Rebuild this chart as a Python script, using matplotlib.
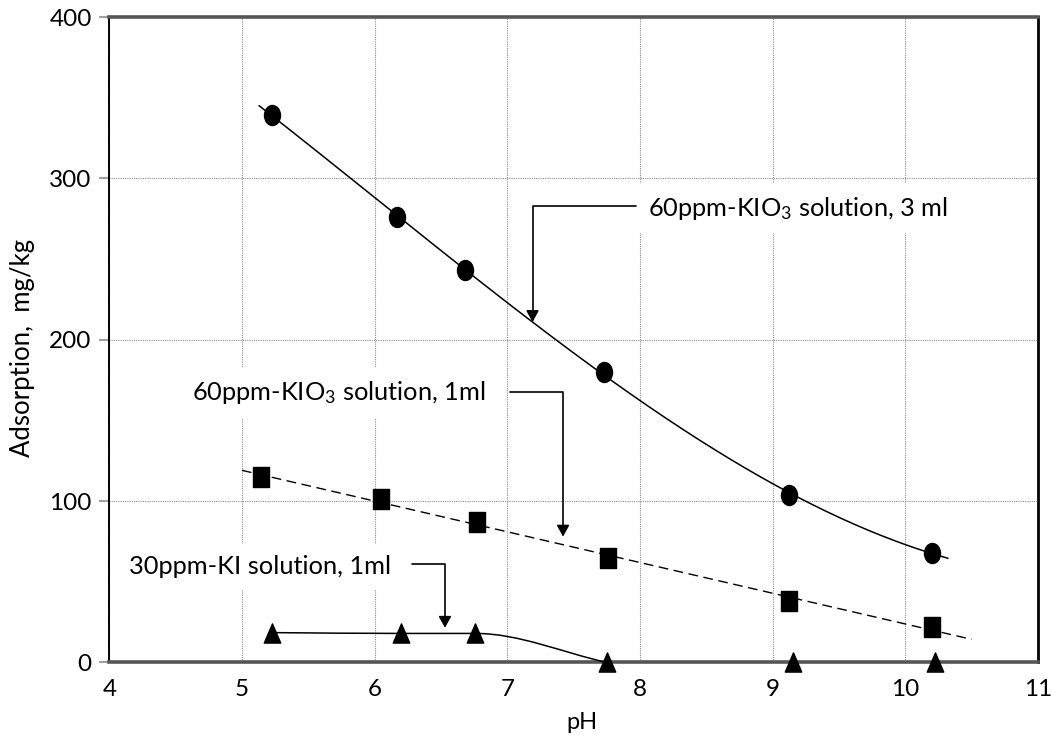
import numpy as np
import matplotlib
matplotlib.use("Agg")
import matplotlib.pyplot as plt
import matplotlib.patches as mpatches
from matplotlib.path import Path

plt.rcParams["font.family"] = ["Lato", "DejaVu Sans"]
plt.rcParams["mathtext.fontset"] = "custom"
plt.rcParams["mathtext.rm"] = "Lato"
plt.rcParams["mathtext.it"] = "Lato:italic"

# ---- data ----
ph_kio3_3ml = [5.23, 6.17, 6.68, 7.73, 9.12, 10.20]
ads_kio3_3ml = [339, 276, 243, 180, 104, 68]

ph_kio3_1ml = [5.14, 6.05, 6.77, 7.76, 9.12, 10.20]
ads_kio3_1ml = [115, 101, 87, 65, 38, 22]

ph_ki_1ml = [5.23, 6.20, 6.76, 7.75, 9.15, 10.22]
ads_ki_1ml = [18.5, 18, 18, 0, 0, 0]

x_ticks = [4, 5, 6, 7, 8, 9, 10, 11]
y_ticks = [0, 100, 200, 300, 400]

label_3ml = "60ppm-KIO$_{\\mathrm{3}}$ solution, 3 ml"
label_kio3_1ml = "60ppm-KIO$_{\\mathrm{3}}$ solution, 1ml"
label_ki_1ml = "30ppm-KI solution, 1ml"


def smooth_path(xv, yv):
    """Monotone (Fritsch-Carlson) smoothed line through the data points, as Bezier path."""
    x = np.asarray(xv, float)
    y = np.asarray(yv, float)
    h = np.diff(x)
    delta = np.diff(y) / h
    d = np.zeros_like(x)
    d[0], d[-1] = delta[0], delta[-1]
    for k in range(1, len(x) - 1):
        if delta[k - 1] * delta[k] > 0:
            w1 = 2 * h[k] + h[k - 1]
            w2 = h[k] + 2 * h[k - 1]
            d[k] = (w1 + w2) / (w1 / delta[k - 1] + w2 / delta[k])
    verts = [(x[0], y[0])]
    codes = [Path.MOVETO]
    for k in range(len(x) - 1):
        verts += [(x[k] + h[k] / 3, y[k] + d[k] * h[k] / 3),
                  (x[k + 1] - h[k] / 3, y[k + 1] - d[k + 1] * h[k] / 3),
                  (x[k + 1], y[k + 1])]
        codes += [Path.CURVE4] * 3
    return Path(verts, codes)


# ---- figure ----
fig = plt.figure(figsize=(10.52, 7.36), dpi=100)
ax = fig.add_axes([0.1039, 0.0999, 0.8828, 0.8770])

# slightly tall markers (as in the reference)
circ = Path.unit_circle()
ellipse = Path(circ.vertices * np.array([0.80, 1.0]), circ.codes)
rect = Path([(-0.39, -0.5), (0.39, -0.5), (0.39, 0.5), (-0.39, 0.5), (-0.39, -0.5)],
            [Path.MOVETO, Path.LINETO, Path.LINETO, Path.LINETO, Path.CLOSEPOLY])
tri = Path([(-0.43, -0.5), (0.43, -0.5), (0.0, 0.5), (-0.43, -0.5)],
           [Path.MOVETO, Path.LINETO, Path.LINETO, Path.CLOSEPOLY])

# trend curves
p3 = np.polyfit(ph_kio3_3ml, ads_kio3_3ml, 3)
xs = np.linspace(5.13, 10.32, 200)
ax.plot(xs, np.polyval(p3, xs), color="black", lw=1.1, zorder=3)

p1 = np.polyfit(ph_kio3_1ml, ads_kio3_1ml, 1)
xs = np.linspace(5.0, 10.5, 50)
ax.plot(xs, np.polyval(p1, xs), color="black", lw=1.0, ls=(0, (7, 4)), zorder=3)

ki_curve = mpatches.PathPatch(smooth_path(ph_ki_1ml[:4], ads_ki_1ml[:4]),
                              fc="none", ec="black", lw=1.1, zorder=3)
ax.add_patch(ki_curve)

ax.plot(ph_kio3_3ml, ads_kio3_3ml, ls="none", marker=ellipse, ms=14.4,
        color="black", zorder=4, clip_on=False)
ax.plot(ph_kio3_1ml, ads_kio3_1ml, ls="none", marker=rect, ms=14.4,
        color="black", zorder=4, clip_on=False)
ax.plot(ph_ki_1ml, ads_ki_1ml, ls="none", marker=tri, ms=13.8,
        color="black", zorder=4, clip_on=False)

# axes
ax.set_xlim(4, 11)
ax.set_ylim(0, 400)
ax.set_xticks(x_ticks)
ax.set_yticks(y_ticks)
ax.tick_params(axis="x", length=0, pad=12, labelsize=17.5, colors="black")
ax.tick_params(axis="y", length=7.2, width=1.5, color="#a0a0a0", pad=5.5,
               labelsize=17.5, labelcolor="black")
ax.grid(True, color="#8c8c8c", lw=0.8, ls=(0, (1, 1)), zorder=0)
ax.set_axisbelow(True)

for s in ("top", "bottom"):
    ax.spines[s].set_color("#555555")
    ax.spines[s].set_linewidth(2.6)
ax.spines["left"].set_color("black")
ax.spines["left"].set_linewidth(1.4)
ax.spines["right"].set_color("black")
ax.spines["right"].set_linewidth(2.0)

ax.set_xlabel("pH", fontsize=17)
ax.xaxis.set_label_coords(0.509, -0.0937)
ax.xaxis.label.set_va("center")
ax.set_ylabel("Adsorption,  mg/kg", fontsize=18.5)
ax.yaxis.set_label_coords(-0.094, 0.487)
ax.yaxis.label.set_va("center")

# annotations
arrow = dict(arrowstyle="-|>,head_length=0.45,head_width=0.25", mutation_scale=15,
             connectionstyle="angle,angleA=0,angleB=90,rad=0",
             shrinkA=0, shrinkB=0, lw=1.2, color="black")
box = dict(boxstyle="square,pad=0.45", fc="white", ec="none")

ax.annotate("", xy=(7.19, 211), xytext=(7.97, 282.8), arrowprops=arrow, zorder=5)
ax.text(8.06, 281.6, label_3ml, ha="left", va="center", fontsize=18.3, bbox=box, zorder=2)

ax.annotate("", xy=(7.42, 78), xytext=(7.02, 167.4), arrowprops=arrow, zorder=5)
ax.text(4.62, 167, label_kio3_1ml, ha="left", va="center", fontsize=18.3, bbox=box, zorder=2)

ax.annotate("", xy=(6.53, 21.5), xytext=(6.28, 61), arrowprops=arrow, zorder=5)
ax.text(4.15, 59.4, label_ki_1ml, ha="left", va="center", fontsize=18.3, bbox=box, zorder=2)

fig.savefig("out.png", dpi=100)
